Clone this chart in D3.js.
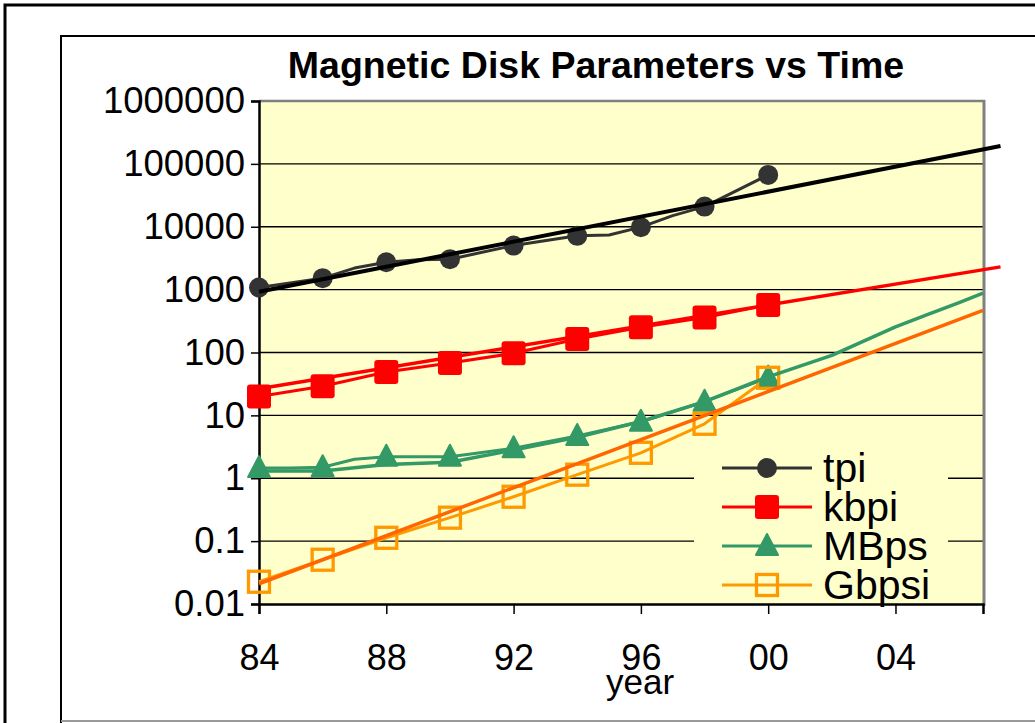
<!DOCTYPE html>
<html>
<head>
<meta charset="utf-8">
<script src="https://cdn.jsdelivr.net/npm/d3@7"></script>
<style>
body { margin: 0; background: #fff; }
svg { display: block; font-family: Arial, "Liberation Sans", sans-serif; }
</style>
</head>
<body>
<svg width="1035" height="723"></svg>
<script>
"use strict";
// values (year, value)
const tpiYears = [1984, 1986, 1987, 1988, 1989, 1990, 1992, 1994, 1995, 1996, 1997, 1998, 2000];
const tpiValues = [1080, 1520, 2200, 2730, 3000, 3050, 5020, 7170, 7400, 9860, 15000, 20900, 66800];
const kbpiYears = [1984, 1986, 1988, 1990, 1992, 1994, 1996, 1998, 2000];
const kbpiValues = [20, 29, 49, 68, 97, 164, 253, 360, 570];
const mbpsYears = [1984, 1985, 1986, 1987, 1988, 1989, 1990, 1992, 1994, 1996, 1998, 2000];
const mbpsValues = [1.45, 1.45, 1.5, 2.0, 2.2, 2.2, 2.2, 3.0, 4.7, 7.9, 16.5, 40];
const gbpsiYears = [1984, 1986, 1988, 1990, 1992, 1994, 1996, 1998, 2000];
const gbpsiValues = [0.0226, 0.0506, 0.113, 0.236, 0.508, 1.14, 2.54, 7.35, 39.6];

// fitted / projected lines
const tpiTrendYears = [1984, 2007.3];
const tpiTrendValues = [923, 193000];
const kbpiTrendYears = [1984, 2007.3];
const kbpiTrendValues = [26.5, 2300];
const mbpsTrendYears = [1984, 1986, 1988, 1990, 1992, 1994, 1996, 1998, 2000, 2002, 2004, 2005, 2006, 2006.75];
const mbpsTrendValues = [1.3, 1.3, 1.65, 1.8, 2.8, 4.5, 8, 16.5, 41, 90, 255, 400, 620, 880];
const gbpsiTrendYears = [1984, 2006.75];
const gbpsiTrendValues = [0.021, 466];

const yTicks = [0.01, 0.1, 1, 10, 100, 1000, 10000, 100000, 1000000];
const xTicks = [1984, 1988, 1992, 1996, 2000, 2004];
const seriesNames = ["tpi", "kbpi", "MBps", "Gbpsi"];

const svg = d3.select("svg");
const x = d3.scaleLinear().domain([1984, 2006.75]).range([259, 983]);
const y = d3.scaleLog().domain([0.01, 1000000]).range([604, 101]);

// frames
svg.append("path").attr("d", "M5,723V5H1035").attr("fill", "none")
    .attr("stroke", "#000").attr("stroke-width", 3);
svg.append("path").attr("d", "M61,723V36H1035").attr("fill", "none")
    .attr("stroke", "#000").attr("stroke-width", 2);
svg.append("line").attr("x1", 61).attr("x2", 1035).attr("y1", 721).attr("y2", 721)
    .attr("stroke", "#999").attr("stroke-width", 2);

svg.append("text")
    .attr("x", 596).attr("y", 78)
    .attr("text-anchor", "middle")
    .style("font-size", "37.5px").style("font-weight", "bold")
    .text("Magnetic Disk Parameters vs Time");

// plot area
svg.append("rect")
    .attr("x", x.range()[0]).attr("y", y.range()[1])
    .attr("width", x.range()[1] - x.range()[0]).attr("height", y.range()[0] - y.range()[1])
    .attr("fill", "#FFFFCC");

svg.append("g").selectAll("line")
    .data(yTicks.slice(1, -1))
    .enter().append("line")
    .attr("x1", x.range()[0]).attr("x2", x.range()[1])
    .attr("y1", d => y(d)).attr("y2", d => y(d))
    .attr("stroke", "#000").attr("stroke-width", 1.3);

svg.append("line").attr("x1", 259).attr("x2", 985).attr("y1", 101).attr("y2", 101)
    .attr("stroke", "#808080").attr("stroke-width", 2.5);
svg.append("line").attr("x1", 984).attr("x2", 984).attr("y1", 100).attr("y2", 606)
    .attr("stroke", "#808080").attr("stroke-width", 3);

const yAxis = svg.append("g")
    .attr("transform", `translate(${x.range()[0]},0)`)
    .call(d3.axisLeft(y).tickValues(yTicks).tickSize(8).tickPadding(6)
        .tickFormat(d => String(d)));
yAxis.selectAll("text").style("font-size", "36.5px").attr("fill", "#000");
yAxis.selectAll("line").attr("stroke", "#000").attr("stroke-width", 1.5);
yAxis.select(".domain").attr("stroke", "#000").attr("stroke-width", 2.5);

const xAxis = svg.append("g")
    .attr("transform", `translate(0,${y.range()[0]})`)
    .call(d3.axisBottom(x).tickValues(xTicks).tickSize(10).tickPadding(30)
        .tickFormat(d => String(d).slice(2)));
xAxis.selectAll("text").style("font-size", "36px").attr("fill", "#000");
xAxis.selectAll("line").attr("stroke", "#000").attr("stroke-width", 1.5);
xAxis.select(".domain").attr("stroke", "#000").attr("stroke-width", 2.5);

svg.append("text")
    .attr("x", 640).attr("y", 694)
    .attr("text-anchor", "middle")
    .style("font-size", "35px")
    .text("year");

const line = d3.line().x(d => x(d[0])).y(d => y(d[1]));
const pts = (ys, vs) => ys.map((yr, i) => [yr, vs[i]]);

// marker shapes, drawn centred on 0,0
function marker(g, kind) {
    if (kind === "circle") {
        g.append("circle").attr("r", 10).attr("fill", "#333333");
    } else if (kind === "square") {
        g.append("rect").attr("x", -12).attr("y", -12).attr("width", 24).attr("height", 24)
            .attr("rx", 3).attr("fill", "#FF0000");
    } else if (kind === "triangle") {
        g.append("path").attr("d", "M0,-12L11,9L-11,9Z").attr("fill", "#339966")
            .attr("stroke", "#339966").attr("stroke-width", 2).attr("stroke-linejoin", "round");
    } else {
        g.append("rect").attr("x", -10.5).attr("y", -10.5).attr("width", 21).attr("height", 21)
            .attr("fill", "none").attr("stroke", "#FF9900").attr("stroke-width", 3.3);
    }
}

const series = [
    { name: "tpi", data: pts(tpiYears, tpiValues), color: "#333333", kind: "circle" },
    { name: "kbpi", data: pts(kbpiYears, kbpiValues), color: "#FF0000", kind: "square" },
    { name: "MBps", data: pts(mbpsYears, mbpsValues), color: "#339966", kind: "triangle" },
    { name: "Gbpsi", data: pts(gbpsiYears, gbpsiValues), color: "#FF9900", kind: "hollow" }
];
const trends = [
    { data: pts(tpiTrendYears, tpiTrendValues), color: "#000000", width: 4 },
    { data: pts(kbpiTrendYears, kbpiTrendValues), color: "#FF0000", width: 3.5 },
    { data: pts(mbpsTrendYears, mbpsTrendValues), color: "#339966", width: 3.5 },
    { data: pts(gbpsiTrendYears, gbpsiTrendValues), color: "#FF6600", width: 3.5 }
];

series.forEach(s => {
    svg.append("path").datum(s.data)
        .attr("d", line).attr("fill", "none")
        .attr("stroke", s.color).attr("stroke-width", 3).attr("stroke-linejoin", "round");
});
series.forEach(s => {
    s.data.filter(d => d[0] % 2 === 0).forEach(d => {
        marker(svg.append("g").attr("transform", `translate(${x(d[0])},${y(d[1])})`), s.kind);
    });
});
trends.forEach(t => {
    svg.append("path").datum(t.data)
        .attr("d", line).attr("fill", "none")
        .attr("stroke", t.color).attr("stroke-width", t.width).attr("stroke-linejoin", "round");
});

// legend
const legend = svg.append("g").attr("class", "legend");
legend.append("rect").attr("x", 694).attr("y", 445).attr("width", 254).attr("height", 157)
    .attr("fill", "#FFFFCC");
const rowY = [468, 507, 546, 585];
series.forEach((s, i) => {
    const row = legend.append("g").attr("transform", `translate(0,${rowY[i]})`);
    row.append("line").attr("x1", 722).attr("x2", 812)
        .attr("stroke", s.color).attr("stroke-width", 3);
    marker(row.append("g").attr("transform", "translate(767,0)"), s.kind);
    row.append("text").attr("x", 823).attr("y", 14)
        .style("font-size", "41px").text(seriesNames[i]);
});
</script>
</body>
</html>
